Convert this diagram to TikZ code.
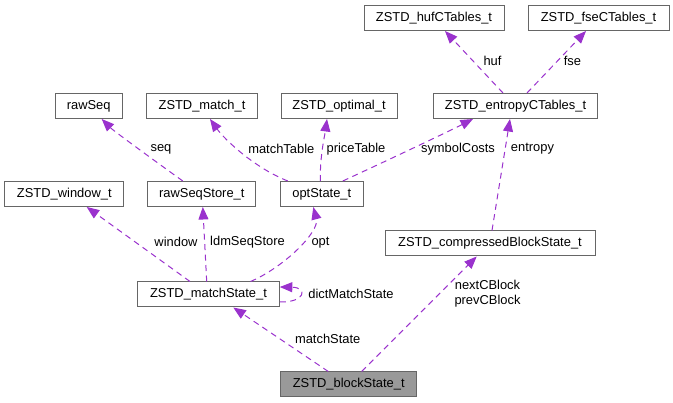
\documentclass[tikz,border=0pt]{standalone}
\usepackage{fontspec}
\setmainfont{Liberation Sans}
\usetikzlibrary{arrows.meta,calc}
\definecolor{edgec}{HTML}{9A32CD}
\definecolor{boxc}{HTML}{666666}
\definecolor{fillc}{HTML}{999999}
\begin{document}
\begin{tikzpicture}[x=1pt,y=-1pt,
  font=\fontsize{12.9pt}{14.7pt}\selectfont,
  box/.style={draw=boxc,line width=1pt,fill=white,inner sep=0pt,minimum height=25pt,text=black},
  edge/.style={draw=edgec,line width=1pt,dash pattern=on 6pt off 4.5pt,-{Triangle[length=12.5pt,width=10pt,fill=edgec]}},
  lbl/.style={inner sep=0pt,text=black,align=center}]
\useasboundingbox (0,0) rectangle (673,403);
% nodes
\node[box,minimum width=140pt] (huf) at (434,18) {ZSTD\_hufCTables\_t};
\node[box,minimum width=141pt] (fse) at (598.5,18) {ZSTD\_fseCTables\_t};
\node[box,minimum width=164pt] (entropy) at (515.5,106) {ZSTD\_entropyCTables\_t};
\node[box,minimum width=116pt] (optimal) at (339,106) {ZSTD\_optimal\_t};
\node[box,minimum width=110.6pt] (match) at (202,106) {ZSTD\_match\_t};
\node[box,minimum width=67.3pt] (rawseq) at (88.7,106) {rawSeq};
\node[box,minimum width=119.3pt] (window) at (64.3,194) {ZSTD\_window\_t};
\node[box,minimum width=108.3pt] (rss) at (201.8,194) {rawSeqStore\_t};
\node[box,minimum width=83pt] (opt) at (321.8,194) {optState\_t};
\node[box,minimum width=141.6pt] (ms) at (208.5,294.5) {ZSTD\_matchState\_t};
\node[box,minimum width=210pt] (cbs) at (490,243.5) {ZSTD\_compressedBlockState\_t};
\node[box,minimum width=136pt,fill=fillc] (bs) at (348.7,384.5) {ZSTD\_blockState\_t};
% edges
\draw[edge] ($(entropy.north)+(-12.5,0)$) -- ($(huf.south)+(11,0)$);
\draw[edge] ($(entropy.north)+(11.5,0)$) -- ($(fse.south)+(-12.5,0)$);
\draw[edge] ($(rss.north)+(-19,0)$) .. controls ($(rss.north)+(-40,-15)$) and ($(rawseq.south)+(25,12)$) .. ($(rawseq.south)+(13,0)$);
\draw[edge] ($(opt.north)+(-34,0)$) .. controls ($(opt.north)+(-67,-13)$) and ($(match.south)+(23,21)$) .. ($(match.south)+(8,0)$);
\draw[edge] ($(opt.north)+(-1.5,0)$) .. controls ($(opt.north)+(-2,-25)$) and ($(optimal.south)+(-14,15)$) .. ($(optimal.south)+(-12,0)$);
\draw[edge] ($(opt.north)+(21,0)$) .. controls ($(opt.north)+(60,-18)$) and ($(entropy.south)+(-70,14)$) .. ($(entropy.south)+(-42.5,0)$);
\draw[edge] ($(cbs.north)+(2,0)$) -- ($(entropy.south)+(-5.5,0)$);
\draw[edge] ($(ms.north)+(-18.5,0)$) -- ($(window.south)+(22.4,0)$);
\draw[edge] ($(ms.north)+(-1.8,0)$) -- ($(rss.south)+(1,0)$);
\draw[edge] ($(ms.north)+(42,0)$) .. controls ($(ms.north)+(75,-14)$) and ($(opt.south)+(-2,25)$) .. ($(opt.south)+(-8.5,0)$);
\draw[edge] ($(ms.east)+(0,7.5)$) .. controls ($(ms.east)+(26,8)$) and ($(ms.east)+(28,-7)$) .. ($(ms.east)+(0,-7.5)$);
\draw[edge] ($(bs.north)+(-20.4,0)$) -- ($(ms.south)+(24.8,0)$);
\draw[edge] ($(bs.north)+(13,0)$) -- ($(cbs.south)+(-13.3,0)$);
% labels
\node[lbl] (lhuf) at (492.5,61) {huf};
\node[lbl] (lfse) at (572.5,61) {fse};
\node[lbl] (lseq) at (161,149) {seq};
\node[lbl] (lmt) at (281.3,149) {matchTable};
\node[lbl] (lpt) at (356,149) {priceTable};
\node[lbl] (lsc) at (458,149) {symbolCosts};
\node[lbl] (lent) at (532.5,149) {entropy};
\node[lbl] (lwin) at (176,242.3) {window};
\node[lbl] (lldm) at (247.5,242.3) {ldmSeqStore};
\node[lbl] (lopt) at (320.5,242.3) {opt};
\node[lbl] (ldict) at (351,294) {dictMatchState};
\node[lbl] (lms) at (327.7,339.3) {matchState};
\node[lbl] (lcb) at (487.5,293.5) {nextCBlock\\prevCBlock};
\end{tikzpicture}
\end{document}
